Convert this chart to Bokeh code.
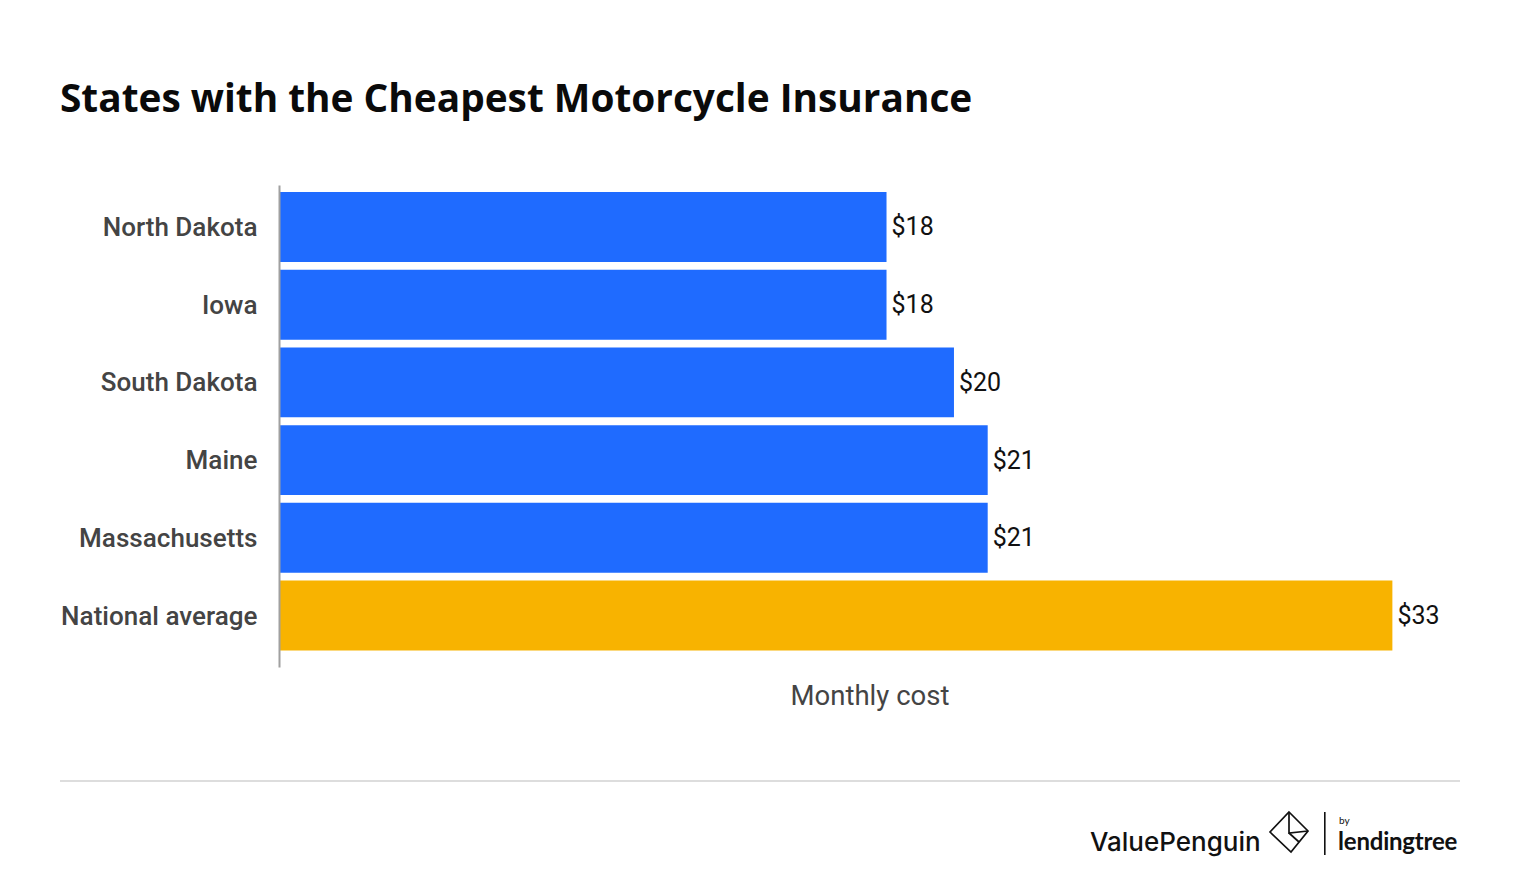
from bokeh.plotting import figure
from bokeh.layouts import column
from bokeh.models import FixedTicker, Range1d, ColumnDataSource, Div
from bokeh.core.properties import value
from bokeh.embed import file_html
from bokeh.resources import INLINE

# ---- data ----
states = ["North Dakota", "Iowa", "South Dakota", "Maine", "Massachusetts", "National average"]
costs = [18, 18, 20, 21, 21, 33]
cost_labels = ["$18", "$18", "$20", "$21", "$21", "$33"]
bar_colors = ["#1f6bff", "#1f6bff", "#1f6bff", "#1f6bff", "#1f6bff", "#f8b300"]
title_text = "States with the Cheapest Motorcycle Insurance"
x_title = "Monthly cost"
brand_text = "ValuePenguin"
by_text = "by"
partner_text = "lendingtree"

n = len(states)
ypos = [n - 1 - i for i in range(n)]

W = 1512
TOP_H = 185          # title strip height (image y 0..185)
MAIN_H = 575         # main chart figure height (image y 185..760)
FOOT_H = 122         # footer strip height (image y 760..882)
FL, FR = 279, 1460   # frame left/right (image x)
FRAME_H = 482        # frame height (image y 185..667)


def svg_text(x, y, txt, family, size, weight=400, color="#111111", spacing=0):
    return (f'<text x="{x}" y="{y}" style="font-family:\'{family}\';font-weight:{weight};'
            f'font-size:{size}px;letter-spacing:{spacing}px;fill:{color}">{txt}</text>')


# ---- title strip (inline SVG inside a Div) ----
title_svg = (
    f'<svg xmlns="http://www.w3.org/2000/svg" width="{W}" height="{TOP_H}" style="display:block">'
    + svg_text(60, 111.5, title_text, "Open Sans", 38.8, weight=700, color="#0a0a0a")
    + '</svg>'
)
ptop = Div(text=title_svg, width=W, height=TOP_H, margin=0)

# ---- main chart ----
src = ColumnDataSource(dict(y=ypos, cost=costs, label=cost_labels, color=bar_colors))

p = figure(width=W, height=MAIN_H, output_backend="svg", toolbar_location=None,
           x_range=Range1d(0, 35.02), y_range=Range1d(-0.669, n - 1 + 0.534),
           min_border_left=FL, min_border_top=0,
           min_border_bottom=MAIN_H - FRAME_H, min_border_right=W - FR)
p.outline_line_color = None
p.grid.visible = False
p.background_fill_color = "white"
p.border_fill_color = "white"

p.hbar(y="y", right="cost", left=0, height=0.9, color="color", source=src, line_color=None)
p.text(x="cost", y="y", text="label", source=src, x_offset=5, text_baseline="middle",
       text_align="left", text_font=value("Roboto"), text_font_size="25px", text_color="#111111")

ya = p.yaxis[0]
ya.ticker = FixedTicker(ticks=ypos)
ya.major_label_overrides = {yy: s for yy, s in zip(ypos, states)}
ya.major_tick_line_color = None
ya.minor_tick_line_color = None
ya.axis_line_color = "#a0a0a0"
ya.axis_line_width = 2
ya.major_label_standoff = 16
ya.major_label_text_font = "Roboto Medium, Roboto"
ya.major_label_text_font_size = "26px"
ya.major_label_text_color = "#444444"

xa = p.xaxis[0]
xa.ticker = FixedTicker(ticks=[])
xa.axis_line_color = None
xa.major_tick_line_color = None
xa.minor_tick_line_color = None
xa.axis_label = x_title
xa.axis_label_text_font = "Roboto"
xa.axis_label_text_font_style = "normal"
xa.axis_label_text_font_size = "27.5px"
xa.axis_label_text_color = "#444444"
xa.axis_label_standoff = 11

# ---- footer strip (inline SVG inside a Div); local y = image y - 760 ----
foot_svg = (
    f'<svg xmlns="http://www.w3.org/2000/svg" width="{W}" height="{FOOT_H}" style="display:block">'
    '<rect x="60" y="20" width="1400" height="2" fill="#dddddd"/>'
    + svg_text(1090, 90.5, brand_text, "Inter", 26, weight=500)
    + '<g fill="none" stroke="#111111" stroke-width="1.7" stroke-linejoin="miter">'
    '<path d="M1289,52 L1308,71 L1291,92 L1270,72 Z"/>'
    '<path d="M1289,52 L1289,73 L1308,71"/>'
    '<path d="M1289,73 L1299,82"/>'
    '</g>'
    '<rect x="1324" y="52" width="1.6" height="43" fill="#111111"/>'
    + svg_text(1339, 64, by_text, "Lato", 10)
    + svg_text(1338, 90, partner_text, "Lato", 24, weight=700, spacing=-0.2)
    + '</svg>'
)
pfoot = Div(text=foot_svg, width=W, height=FOOT_H, margin=0)

layout = column(ptop, p, pfoot, spacing=0)
open("out.html", "w").write(file_html(layout, INLINE))
